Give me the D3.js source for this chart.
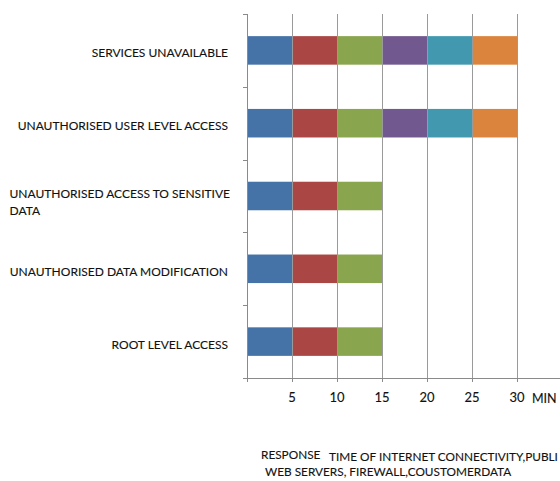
<!DOCTYPE html>
<html>
<head>
<meta charset="utf-8">
<script src="https://cdn.jsdelivr.net/npm/d3@7/dist/d3.min.js"></script>
<style>
  html, body { margin: 0; padding: 0; background: #fff; }
  svg { display: block; }
  text { font-family: Lato, "Open Sans", sans-serif; fill: #111; stroke: #111; stroke-width: 0.12px; }
</style>
</head>
<body>
<svg id="chart" width="560" height="481"></svg>
<script>
// Incident categories, top to bottom
const categories = [
  "SERVICES UNAVAILABLE",
  "UNAUTHORISED USER LEVEL ACCESS",
  "UNAUTHORISED ACCESS TO SENSITIVE DATA",
  "UNAUTHORISED DATA MODIFICATION",
  "ROOT LEVEL ACCESS"
];

// Response time (minutes) spent per stage, one array per stacked stage
const stage1 = [5, 5, 5, 5, 5];
const stage2 = [5, 5, 5, 5, 5];
const stage3 = [5, 5, 5, 5, 5];
const stage4 = [5, 5, 0, 0, 0];
const stage5 = [5, 5, 0, 0, 0];
const stage6 = [5, 5, 0, 0, 0];

const seriesKeys = ["stage1", "stage2", "stage3", "stage4", "stage5", "stage6"];
const seriesValues = [stage1, stage2, stage3, stage4, stage5, stage6];
const seriesColors = ["#4572A7", "#AA4643", "#89A54E", "#71588F", "#4198AF", "#DB843D"];

// Axis ticks
const xTicks = [5, 10, 15, 20, 25, 30];
const xUnit = "MIN";
const xTitleLines = [
  ["RESPONSE", "TIME OF INTERNET CONNECTIVITY,PUBLI"],
  ["WEB SERVERS, FIREWALL,COUSTOMERDATA"]
];

// Wrapped category labels
const labelLines = {
  "UNAUTHORISED ACCESS TO SENSITIVE DATA": ["UNAUTHORISED ACCESS TO SENSITIVE", "DATA"]
};

const svg = d3.select("#chart");

const plot = { left: 247, top: 14, bottom: 378 };

const x = d3.scaleLinear().domain([0, 35]).range([plot.left, 562]);
const y = d3.scaleBand()
  .domain(categories)
  .range([plot.top, plot.bottom])
  .paddingInner(0.608)
  .paddingOuter(0.304);

const rows = categories.map((c, i) => {
  const r = { category: c };
  seriesKeys.forEach((k, j) => { r[k] = seriesValues[j][i]; });
  return r;
});

const stacked = d3.stack().keys(seriesKeys)(rows);

// Stacked bars
const layers = svg.append("g").selectAll("g")
  .data(stacked)
  .join("g")
  .attr("fill", (d, i) => seriesColors[i]);

layers.selectAll("rect")
  .data(d => d.filter(s => s[1] - s[0] > 0))
  .join("rect")
  .attr("x", d => x(d[0]))
  .attr("width", d => x(d[1]) - x(d[0]))
  .attr("y", d => y(d.data.category))
  .attr("height", y.bandwidth());

// Vertical gridlines over the bars
svg.append("g").selectAll("line")
  .data(xTicks)
  .join("line")
  .attr("x1", d => x(d) + 0.5).attr("x2", d => x(d) + 0.5)
  .attr("y1", plot.top).attr("y2", plot.bottom)
  .attr("stroke", "#9a9a9a")
  .attr("stroke-width", 1);

// Category axis (left)
const yStep = y.step();
const yBounds = d3.range(categories.length + 1).map(i => plot.top + i * yStep);
const yAxis = svg.append("g");
yAxis.append("line")
  .attr("x1", plot.left + 0.5).attr("x2", plot.left + 0.5)
  .attr("y1", plot.top).attr("y2", plot.bottom + 4)
  .attr("stroke", "#8a8a8a");
yAxis.selectAll(".tick")
  .data(yBounds)
  .join("line")
  .attr("x1", plot.left - 4).attr("x2", plot.left)
  .attr("y1", d => Math.round(d) + 0.5).attr("y2", d => Math.round(d) + 0.5)
  .attr("stroke", "#8a8a8a");

// Value axis (bottom)
const xAxis = svg.append("g");
xAxis.append("line")
  .attr("x1", plot.left).attr("x2", 560)
  .attr("y1", plot.bottom + 0.5).attr("y2", plot.bottom + 0.5)
  .attr("stroke", "#8a8a8a");
xAxis.selectAll(".tick")
  .data([0].concat(xTicks))
  .join("line")
  .attr("x1", d => x(d) + 0.5).attr("x2", d => x(d) + 0.5)
  .attr("y1", plot.bottom).attr("y2", plot.bottom + 4)
  .attr("stroke", "#8a8a8a");
xAxis.selectAll("text")
  .data(xTicks)
  .join("text")
  .attr("x", d => x(d))
  .attr("y", 402)
  .attr("text-anchor", "middle")
  .attr("font-size", 13)
  .text(d => d);
xAxis.append("text")
  .attr("x", 532)
  .attr("y", 403)
  .attr("font-size", 12.5)
  .text(xUnit);

// Category labels
const labels = svg.append("g").attr("font-size", 12);
categories.forEach(c => {
  const cy = y(c) + y.bandwidth() / 2;
  const lines = labelLines[c];
  if (lines) {
    const t = labels.append("text").attr("y", cy + 2).attr("text-anchor", "end").attr("x", 230).text(lines[0]);
    const w = t.node().getComputedTextLength();
    labels.append("text").attr("x", 230 - w).attr("y", cy + 18.5).text(lines[1]);
  } else {
    labels.append("text")
      .attr("x", 228)
      .attr("y", cy + 7)
      .attr("text-anchor", "end")
      .text(c);
  }
});

// Axis title
const title = svg.append("g").attr("font-size", 11.8);
title.append("text").attr("x", 261).attr("y", 459).text(xTitleLines[0][0]);
title.append("text").attr("x", 329).attr("y", 461).text(xTitleLines[0][1]);
title.append("text").attr("x", 265).attr("y", 476).text(xTitleLines[1][0]);
</script>
</body>
</html>
